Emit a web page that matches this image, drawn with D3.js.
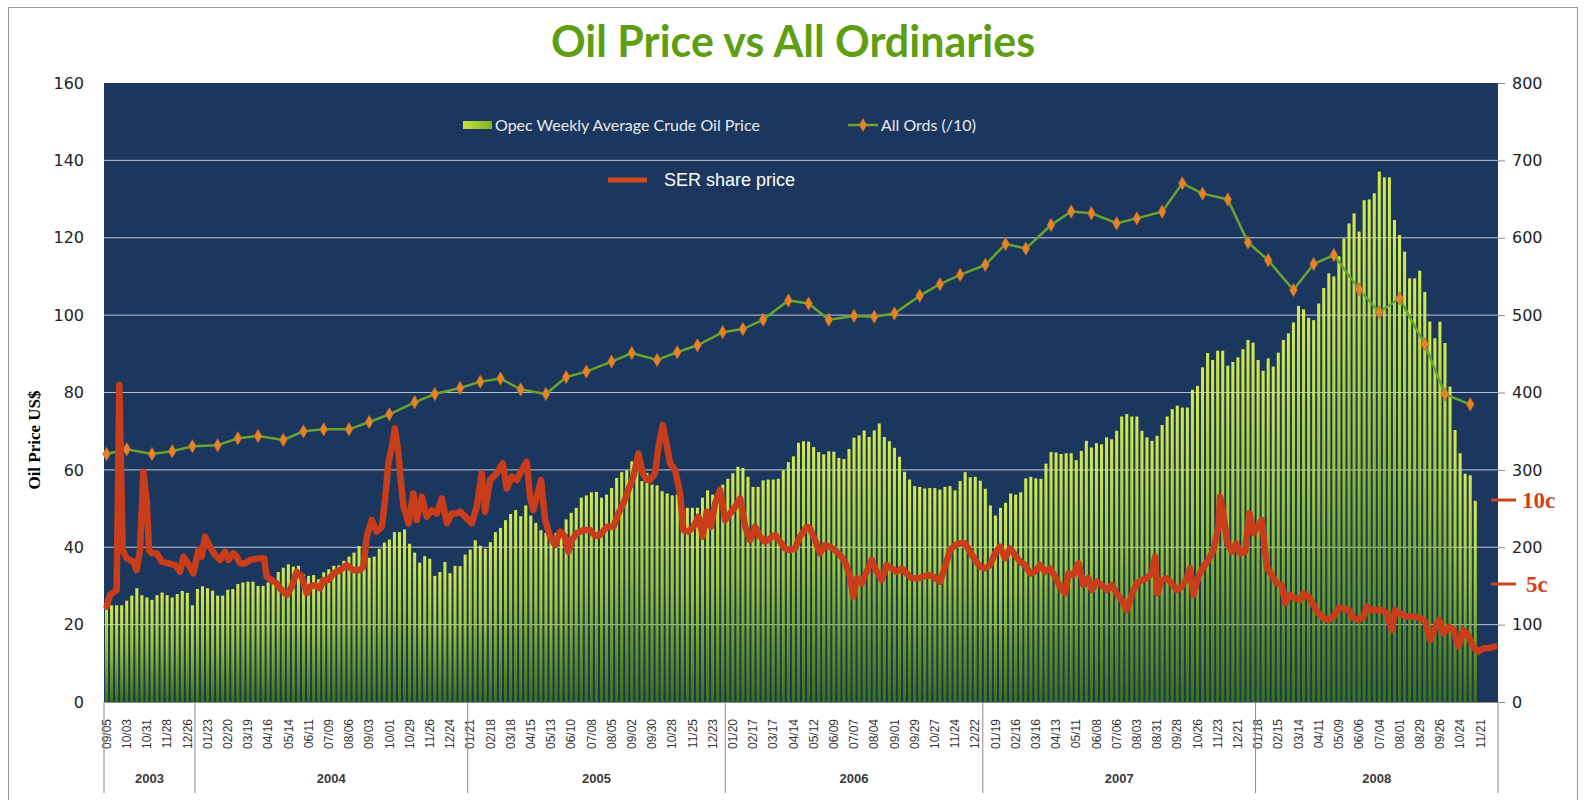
<!DOCTYPE html>
<html>
<head>
<meta charset="utf-8">
<script src="https://cdn.jsdelivr.net/npm/d3@7"></script>
<style>
  body { margin: 0; background: #fff; }
</style>
</head>
<body>
<div id="chart"></div>
<script>
// weekly categories start on Friday 2003-09-05, one tick label every 4 weeks
const weekCount = 276;
const weekLabels = [
  "09/05","10/03","10/31","11/28","12/26",
  "01/23","02/20","03/19","04/16","05/14","06/11","07/09","08/06","09/03","10/01","10/29","11/26","12/24",
  "01/21","02/18","03/18","04/15","05/13","06/10","07/08","08/05","09/02","09/30","10/28","11/25","12/23",
  "01/20","02/17","03/17","04/14","05/12","06/09","07/07","08/04","09/01","09/29","10/27","11/24","12/22",
  "01/19","02/16","03/16","04/13","05/11","06/08","07/06","08/03","08/31","09/28","10/26","11/23","12/21",
  "01/18","02/15","03/14","04/11","05/09","06/06","07/04","08/01","08/29","09/26","10/24","11/21"
];
const years = ["2003", "2004", "2005", "2006", "2007", "2008"];
const yearStartWeek = [0, 18, 72, 123, 174, 228];

// OPEC weekly average crude oil price, US$
const oilPrice = [
  26.5, 25, 25, 25, 26.2, 27.5, 29.4, 27.6, 27, 26.4,
  27.6, 28.3, 27.6, 27, 27.9, 28.7, 28.2, 25, 29.2, 29.9,
  29.4, 28.8, 27.5, 27.5, 29, 29.2, 30.5, 30.9, 31.1, 31.1,
  30, 30, 30.9, 31.7, 33.6, 34.7, 35.6, 35, 35.2, 33,
  32.6, 32.8, 31.7, 33.5, 34.3, 35.2, 35.3, 36.5, 37.6, 38.6,
  40.3, 37.3, 37.3, 37.6, 39.6, 41.2, 42, 43.9, 43.9, 44.6,
  40.9, 38.6, 36, 37.7, 37, 32.6, 33.6, 36.2, 33.3, 35.2,
  35.1, 38.1, 39.4, 41.8, 40.4, 39.6, 41.3, 43.9, 45, 47,
  48.6, 49.6, 48, 50.8, 48.2, 46.3, 44.4, 43.7, 43, 43.7,
  43.3, 47.2, 48.9, 50.2, 52.8, 53.4, 54.2, 54.3, 52.8, 53.6,
  55.3, 57.9, 59.4, 59.9, 62.2, 60.5, 57.1, 59.2, 56.2, 56,
  54.5, 53.9, 53.4, 53.6, 50.2, 50.2, 50.2, 50.2, 52.8, 54.7,
  53.6, 54.5, 56.2, 57.7, 59.1, 60.8, 60.5, 58.2, 55.6, 55.6,
  57.3, 57.5, 57.5, 57.7, 59.9, 62, 63.5, 67, 67.4, 67.3,
  65.9, 64.6, 64, 64.8, 64.7, 63.1, 62.8, 65.4, 68.3, 68.9,
  70.2, 68.5, 70.2, 72, 68.5, 67.4, 65.7, 63.4, 59.5, 57.5,
  55.8, 55.6, 55.2, 55.3, 55.3, 54.9, 55.6, 55.8, 54.7, 57.1,
  59.4, 58.1, 58.2, 57.2, 55.1, 50.8, 48.2, 50.2, 51.5, 53.9,
  53.6, 54.2, 57.8, 58.2, 57.8, 57.7, 61.6, 64.6, 64.5, 64.1,
  64.3, 64.3, 62.5, 64.9, 67.5, 65.8, 66.9, 66.6, 68.4, 67.9,
  70.1, 73.8, 74.4, 73.8, 73.8, 70.1, 68.4, 67.5, 68.8, 71.6,
  73.8, 75.7, 76.6, 76.1, 76.1, 80.7, 81.7, 86.5, 90.2, 88.4,
  90.8, 90.8, 86.9, 87.9, 89.1, 91.2, 93.6, 92.9, 88.4, 85.6,
  88.8, 86.7, 90.3, 93.6, 95.3, 98.1, 102.4, 101.5, 99.3, 98.7,
  103, 107, 110.8, 110, 115.2, 119.8, 123.7, 126.3, 121.6, 129.7,
  129.9, 131.5, 137.1, 135.6, 135.6, 124.6, 120.7, 116.4, 109.5, 109.5,
  111.5, 106, 98.3, 94, 98.3, 92.8, 81.5, 70.3, 64.3, 59,
  58.6, 52
];

// All Ordinaries index / 10, monthly from Sep 2003 (plotted on first Friday of month)
const ordsValues = [
  320.5, 326.6, 320.5, 324,
  330.5, 331.7, 340.8, 343.8, 338.6, 349.8, 352.4, 352.4, 361.9, 371.8, 387.3, 398,
  405.8, 414, 418, 404, 398, 420, 427, 440, 451, 442, 452, 461,
  478, 482, 494, 519, 515, 494, 499, 498, 502, 525, 540, 552,
  565, 592, 586, 616.5, 634, 631.6, 618.7, 625, 633.7, 670.3, 657, 649.5,
  594, 571, 532.5, 566, 577.7, 533.4, 503.6, 521.7, 462.3, 397.7, 384.7
];

// SER share price (cents), week position and value
const serWeek = [
  0.03, 0.69, 2.01, 2.54, 3.2, 4.0, 5.31, 5.97, 6.63, 7.29, 7.95, 8.41, 8.94, 9.93, 10.92,
  12.24, 13.56, 14.55, 15.21, 16.53, 17.19, 18.18, 18.84, 19.5, 20.49, 21.48, 22.47, 23.46, 24.12,
  25.11, 25.77, 26.43, 27.42, 28.41, 30.39, 31.19, 31.71, 32.7, 33.69, 34.35, 35.67, 36.66, 37.65,
  38.64, 39.63, 40.29, 41.28, 42.27, 42.93, 43.92, 44.92, 46.24, 47.56, 48.88, 50.2, 50.86, 51.52,
  52.5, 53.5, 54.5, 55.15, 55.8, 56.5, 57.1, 57.8, 58.25, 58.8, 59.8, 60.75, 61.4, 62.4, 63.4,
  64.4, 65.4, 66.4, 67.4, 68.35, 69.3,
  70, 71, 72.3, 73.3, 74.3, 74.95, 75.94, 77.26, 78.45, 79.24, 80.23, 81.22, 82.21, 83.2, 83.86,
  84.52, 85.18, 86.04, 86.83, 87.82, 88.81, 89.8, 90.79, 91.45, 92.11, 93.1, 94.42, 95.74, 96.73,
  97.72, 99.04, 100.36, 101.35, 102.34, 103.33, 104.32, 105.31, 106.17, 106.96, 107.62, 108.61,
  109.27, 110.13, 110.92, 111.58, 112.57, 113.56, 114.22, 115.21, 116.2, 117.19, 118.05, 118.84,
  119.64, 120.5, 121.49, 122.48, 123.47, 124.46, 125.45, 126.44, 127.43,
  128.4, 129.4, 130.4, 131.4, 132.4, 133.35, 134.34, 135.33, 136.32, 137.31, 138.63, 139.29,
  140.28, 141.27, 142.26, 143.25, 144.24, 145.23, 146.22, 147.21, 147.87, 148.53, 149.52, 150.51,
  151.5, 152.49, 153.48, 154.47, 155.46, 156.45, 157.44, 158.43, 159.42, 160.74, 161.73, 162.72,
  163.71, 165.03, 166.02, 167.01, 168.0, 168.99, 169.98, 170.97, 171.96, 172.95, 173.94, 174.93,
  175.92, 176.91, 177.9, 178.89, 179.88, 180.87, 181.86, 182.86, 183.85, 184.84, 185.83,
  186.82, 187.81, 188.8, 189.79, 190.45, 191.44, 192.43, 193.42, 194.41, 195.07, 196.06, 197.05,
  198.04, 199.03, 200.02, 201.01, 202.0, 202.99, 203.98, 204.97, 205.96, 206.95, 207.61, 208.07,
  208.93, 209.92, 210.91, 211.9, 212.89, 213.88, 214.54, 215.2, 216.19, 217.18, 218.17, 219.16,
  220.15, 220.48, 221.14, 221.8, 222.79, 223.65, 224.44, 225.43, 226.29, 227.08, 227.88, 228.73,
  229.72, 230.71, 231.71, 232.69, 233.35, 234.34,
  235.34, 236.33, 236.99, 237.98, 238.97, 239.96, 240.95, 241.94, 242.93, 243.92, 244.91, 245.9,
  246.89, 247.88, 248.87, 249.53, 250.52, 251.51, 252.5, 253.49, 254.48, 255.14, 256.13, 257.12,
  258.11, 259.1, 260.09, 261.08, 262.07, 263.06, 263.86, 264.71, 265.7, 266.7, 267.68, 268.67,
  269.66, 270.65, 271.64, 272.63, 273.62, 274.81
];
const serCents = [
  3.65, 4.35, 4.64, 16.85, 7.02, 6.53, 6.33, 5.83, 7.02, 11.69, 10, 7.02, 6.83, 6.83, 6.33,
  6.23, 6.13, 5.73, 6.63, 6.03, 5.63, 7.02, 6.63, 7.82, 7.22, 6.73, 6.43, 6.92, 6.43,
  6.83, 6.63, 6.23, 6.23, 6.43, 6.53, 6.53, 5.44, 5.24, 5.04, 4.74, 4.35, 4.84, 5.73,
  5.44, 4.44, 4.84, 4.94, 4.74, 5.24, 5.24, 5.63, 5.83, 6.13, 5.83, 5.83, 6.03, 7.82,
  8.81, 8.12, 8.41, 10, 12.18, 13.17, 14.27, 12.78, 11.19, 9.6, 8.61, 10.4, 8.81, 10.2, 9.01,
  9.4, 9.2, 10.1, 8.61, 9.2, 9.2,
  9.31, 9.01, 8.61, 9.6, 11.59, 9.31, 11.19, 11.59, 12.18, 10.69, 11.39, 11.19, 11.79, 12.28, 10.2,
  9.4, 10.2, 11.19, 8.81, 7.82, 7.32, 8.12, 7.82, 6.92, 7.62, 8.02, 8.21, 8.21, 7.86,
  7.92, 8.41, 8.41, 9.21, 9.8, 10.6, 11.39, 12.78, 11.59, 11.19, 11.19, 11.59,
  13.17, 14.46, 13.27, 12.18, 11.79, 10.4, 8.21, 8.12, 8.41, 9.01, 7.82, 9.31,
  8.41, 9.8, 10.6, 8.81, 9.21, 9.6, 10.1, 8.41, 7.62,
  8.41, 7.82, 7.52, 7.72, 7.92, 7.52, 7.12, 7.02, 7.12, 7.82, 8.41, 8.31,
  7.62, 6.83, 7.32, 7.22, 7.02, 6.73, 6.33, 5.44, 4.25, 5.34, 5.04, 5.73,
  6.43, 5.73, 5.24, 6.13, 5.93, 5.73, 5.93, 5.63, 5.34, 5.34, 5.44, 5.54,
  5.44, 5.14, 6.03, 7.02, 7.32, 7.42, 7.42, 6.92, 6.43, 6.03, 5.93, 6.13,
  6.83, 7.22, 6.53, 7.12, 6.73, 6.33, 6.13, 5.63, 5.73, 6.13, 5.73,
  5.93, 5.44, 4.84, 4.44, 5.63, 5.54, 6.23, 4.94, 5.34, 4.64, 5.14, 4.94,
  4.64, 4.94, 4.44, 4.05, 3.45, 4.35, 5.04, 5.24, 5.34, 5.63, 6.63, 4.44,
  5.24, 5.34, 5.04, 4.64, 4.84, 5.34, 5.93, 4.35, 5.44, 6.03, 6.43, 7.02,
  8.41, 10.2, 9.21, 7.62, 6.92, 7.42, 6.83, 6.92, 9.21, 8.02, 8.41, 8.81,
  6.03, 5.54, 5.04, 4.94, 3.85, 4.35,
  4.15, 4.05, 4.44, 4.25, 3.75, 3.25, 2.96, 2.86, 3.06, 3.55, 3.55, 3.45,
  2.96, 2.86, 3.06, 3.65, 3.45, 3.45, 3.45, 3.25, 2.26, 3.45, 3.25, 3.06,
  3.06, 3.06, 2.96, 2.76, 1.67, 2.36, 2.86, 2.06, 2.46, 2.26, 1.27, 2.26,
  1.87, 1.27, 0.97, 1.17, 1.17, 1.27
];
// hand marks on the right axis: cents and the right-axis value they sit at
const serMarks = [5, 10];
const serMarkAt = [152.5, 261];

// Set the dimensions
const width = 1587;
const height = 800;
const margin = { top: 83, left: 104 };
const plotW = 1394;
const plotH = 619;

const svg = d3.select("#chart")
  .append("svg")
  .attr("width", width)
  .attr("height", height);

// chart area border
svg.append("rect")
  .attr("x", 8.5).attr("y", 7.5)
  .attr("width", 1569).attr("height", 820)
  .attr("fill", "#fff")
  .attr("stroke", "#9a9a9a");

const defs = svg.append("defs");
const grad = defs.append("linearGradient")
  .attr("id", "barGrad")
  .attr("x1", 0).attr("y1", 0).attr("x2", 0).attr("y2", 1);
grad.append("stop").attr("offset", "0%").attr("stop-color", "#d3ea4c");
grad.append("stop").attr("offset", "45%").attr("stop-color", "#9cc834");
grad.append("stop").attr("offset", "100%").attr("stop-color", "#3a7214");

const legGrad = defs.append("linearGradient")
  .attr("id", "legGrad")
  .attr("x1", 0).attr("y1", 0).attr("x2", 1).attr("y2", 0);
legGrad.append("stop").attr("offset", "0%").attr("stop-color", "#c6e23e");
legGrad.append("stop").attr("offset", "100%").attr("stop-color", "#7eb022");

// Title
svg.append("text")
  .attr("x", 793).attr("y", 57)
  .attr("text-anchor", "middle")
  .style("font-family", "Lato, 'Open Sans', sans-serif")
  .style("font-weight", "bold")
  .style("font-size", "43px")
  .style("fill", "#5e9e12")
  .text("Oil Price vs All Ordinaries");

const g = svg.append("g")
  .attr("transform", `translate(${margin.left},${margin.top})`);

// Scales
const x = d3.scaleBand()
  .domain(d3.range(weekCount))
  .range([0, plotW])
  .paddingInner(0.4)
  .paddingOuter(0.2);
const xl = d3.scaleLinear().domain([0, weekCount]).range([0, plotW]);
const yL = d3.scaleLinear().domain([0, 160]).range([plotH, 0]);
const yR = d3.scaleLinear().domain([0, 800]).range([plotH, 0]);
const serY = d3.scaleLinear().domain(serMarks).range(serMarkAt.map(yR));

// plot background
g.append("rect")
  .attr("width", plotW).attr("height", plotH)
  .attr("fill", "#1c375e");

// gridlines
const gridVals = d3.range(20, 160, 20);
g.append("g").selectAll("line")
  .data(gridVals)
  .enter().append("line")
  .attr("x1", 0).attr("x2", plotW)
  .attr("y1", d => yL(d)).attr("y2", d => yL(d))
  .attr("stroke", "#9eabbf")
  .attr("stroke-width", 1);

// Bars
g.append("g").selectAll("rect")
  .data(oilPrice)
  .enter().append("rect")
  .attr("x", (d, i) => x(i))
  .attr("width", x.bandwidth())
  .attr("y", d => yL(d))
  .attr("height", d => plotH - yL(d))
  .attr("fill", "url(#barGrad)");

// faint gridlines showing through the bars
g.append("g").selectAll("line")
  .data(gridVals)
  .enter().append("line")
  .attr("x1", 0).attr("x2", plotW)
  .attr("y1", d => yL(d)).attr("y2", d => yL(d))
  .attr("stroke", "#ffffff")
  .attr("stroke-opacity", 0.22)
  .attr("stroke-width", 1);

// All Ords line
const startDate = new Date(2003, 8, 5);
const ordsData = ordsValues.map((v, i) => {
  const first = d3.timeFriday.ceil(new Date(2003, 8 + i, 1));
  return { week: Math.round((first - startDate) / 6048e5), value: v };
});

const ordsLine = d3.line()
  .x(d => xl(d.week + 0.5))
  .y(d => yR(d.value));

g.append("path")
  .datum(ordsData)
  .attr("d", ordsLine)
  .attr("fill", "none")
  .attr("stroke", "#66a630")
  .attr("stroke-width", 2.5);

const diamond = d3.symbol().type(d3.symbolDiamond).size(52);
g.append("g").selectAll("path")
  .data(ordsData)
  .enter().append("path")
  .attr("d", diamond)
  .attr("transform", d => `translate(${xl(d.week + 0.5)},${yR(d.value)})`)
  .attr("fill", "#e3832a")
  .attr("stroke", "#c4661c")
  .attr("stroke-width", 0.6);

// SER share price line
const serData = serWeek.map((w, i) => ({ week: w, cents: serCents[i] }));
const serLine = d3.line()
  .x(d => xl(d.week + 0.5))
  .y(d => serY(d.cents));

g.append("path")
  .datum(serData)
  .attr("d", serLine)
  .attr("fill", "none")
  .attr("stroke", "#c93d1a")
  .attr("stroke-width", 6.5)
  .attr("stroke-linejoin", "round")
  .attr("stroke-linecap", "round");

// Left axis
const axisFont = "'DejaVu Sans', Verdana, sans-serif";
const leftAxis = g.append("g")
  .call(d3.axisLeft(yL).tickValues(d3.range(0, 161, 20)).tickSize(0).tickPadding(20));
leftAxis.select(".domain").remove();
leftAxis.selectAll("text")
  .style("font-family", axisFont)
  .style("font-size", "16px")
  .style("fill", "#222");

// Right axis
const rightAxis = g.append("g")
  .attr("transform", `translate(${plotW},0)`)
  .call(d3.axisRight(yR).tickValues(d3.range(0, 801, 100)).tickSize(7).tickPadding(7));
rightAxis.select(".domain").remove();
rightAxis.selectAll("line").attr("stroke", "#8a8a8a");
rightAxis.selectAll("text")
  .style("font-family", axisFont)
  .style("font-size", "16px")
  .style("fill", "#222");

// Bottom axis: week labels every 4th week
const bottomAxis = g.append("g")
  .attr("transform", `translate(0,${plotH})`)
  .call(d3.axisBottom(x)
    .tickValues(weekLabels.map((d, i) => i * 4))
    .tickFormat(i => weekLabels[i / 4])
    .tickSize(0));
bottomAxis.select(".domain")
  .attr("stroke", "#8a8a8a");
bottomAxis.selectAll("text")
  .attr("transform", "rotate(-90)")
  .attr("x", -17)
  .attr("y", 0)
  .attr("dy", "0.35em")
  .attr("text-anchor", "end")
  .style("font-family", "'Liberation Sans', Arial, sans-serif")
  .style("font-size", "12px")
  .style("fill", "#333");

// Year groups
const yearBounds = yearStartWeek.concat([weekCount]);
g.append("g").selectAll("line")
  .data(yearBounds)
  .enter().append("line")
  .attr("x1", d => xl(d)).attr("x2", d => xl(d))
  .attr("y1", plotH).attr("y2", plotH + 91)
  .attr("stroke", "#8a8a8a");

g.append("g").selectAll("text")
  .data(years)
  .enter().append("text")
  .attr("x", (d, i) => (xl(yearBounds[i]) + xl(yearBounds[i + 1])) / 2)
  .attr("y", plotH + 76)
  .attr("dy", "0.35em")
  .attr("text-anchor", "middle")
  .style("font-family", "'Liberation Sans', Arial, sans-serif")
  .style("font-weight", "bold")
  .style("font-size", "13px")
  .style("fill", "#3a3a3a")
  .text(d => d);

// Y axis title
svg.append("text")
  .attr("transform", "translate(34,440) rotate(-90)")
  .attr("text-anchor", "middle")
  .attr("dy", "0.35em")
  .style("font-family", "'Liberation Serif', 'Times New Roman', serif")
  .style("font-weight", "bold")
  .style("font-size", "17px")
  .style("fill", "#000")
  .text("Oil Price US$");

// SER cent marks on the right
const marks = g.append("g").selectAll("g")
  .data(serMarks)
  .enter().append("g")
  .attr("transform", d => `translate(${plotW},${serY(d)})`);
marks.append("line")
  .attr("x1", -7).attr("x2", 18)
  .attr("stroke", "#d2421a")
  .attr("stroke-width", 3);
marks.append("text")
  .attr("x", d => d === 10 ? 24 : 28)
  .attr("dy", "0.33em")
  .style("font-family", "'Liberation Serif', 'Times New Roman', serif")
  .style("font-weight", "bold")
  .style("font-size", "23px")
  .style("fill", "#d2421a")
  .text(d => d + "c");

// Legend
const legFont = "Lato, 'Open Sans', sans-serif";
svg.append("rect")
  .attr("x", 463).attr("y", 121).attr("width", 29).attr("height", 8)
  .attr("fill", "url(#legGrad)");
svg.append("text")
  .attr("x", 495).attr("y", 125).attr("dy", "0.35em")
  .style("font-family", legFont).style("font-size", "16px").style("fill", "#e6e9ee")
  .text("Opec Weekly Average Crude Oil Price");

svg.append("line")
  .attr("x1", 848).attr("x2", 878).attr("y1", 125).attr("y2", 125)
  .attr("stroke", "#66a630").attr("stroke-width", 2.5);
svg.append("path")
  .attr("d", diamond)
  .attr("transform", "translate(863,125)")
  .attr("fill", "#e3832a");
svg.append("text")
  .attr("x", 881).attr("y", 125).attr("dy", "0.35em")
  .style("font-family", legFont).style("font-size", "16px").style("fill", "#e6e9ee")
  .text("All Ords (/10)");

svg.append("rect")
  .attr("x", 608).attr("y", 177.5).attr("width", 39).attr("height", 5)
  .attr("fill", "#cf4a20");
svg.append("text")
  .attr("x", 664).attr("y", 180).attr("dy", "0.35em")
  .style("font-family", "'Liberation Sans', Arial, sans-serif")
  .style("font-size", "18px").style("fill", "#ffffff")
  .text("SER share price");
</script>
</body>
</html>
